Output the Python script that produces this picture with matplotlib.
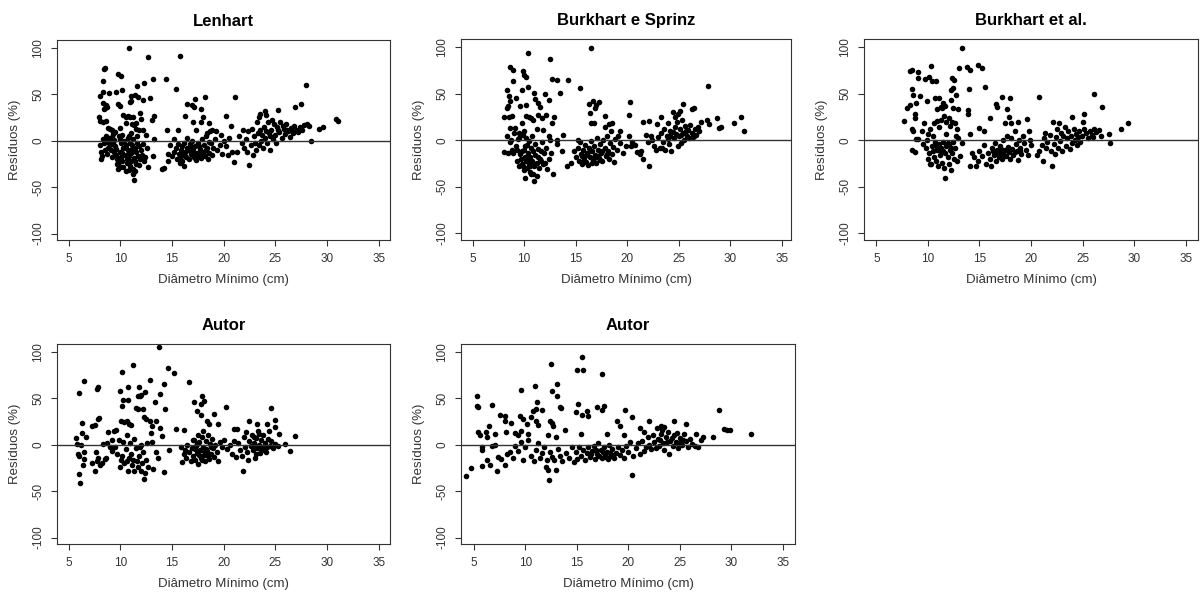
import matplotlib
matplotlib.use("Agg")
import matplotlib.pyplot as plt

plt.rcParams["font.family"] = ["Liberation Sans", "DejaVu Sans"]

XLABEL = "Diâmetro Mínimo (cm)"
YLABEL = "Resíduos (%)"
XTICKS = [5, 10, 15, 20, 25, 30, 35]
YTICKS = [-100, -50, 0, 50, 100]

# ---- Lenhart ----
lenhart = [
    (10.8, 100), (12.7, 90), (15.8, 91), (8.5, 78), (8.4, 77), (9.8, 72), (10.1, 70), (13.2, 67),
    (14.4, 67), (8.3, 64), (12.3, 62), (11.6, 59), (15.4, 56), (10.2, 55), (9.6, 53), (8.9, 51),
    (8.3, 53), (8.0, 48), (11.0, 48), (11.4, 49), (11.7, 47), (12.2, 44), (12.9, 46), (18.2, 47),
    (17.2, 45), (21.1, 47), (16.5, 40), (16.9, 38), (17.1, 36), (8.3, 41), (8.6, 38), (8.5, 35),
    (8.4, 34), (8.7, 36), (9.8, 40), (10.0, 37), (11.0, 43), (10.9, 42), (13.3, 27), (13.1, 22),
    (17.8, 34), (18.0, 26), (16.3, 27), (20.2, 27), (28.0, 60), (27.5, 40), (26.9, 36), (25.3, 33),
    (24.0, 32), (23.5, 29), (23.4, 26), (24.1, 28),
    (7.9, 26), (8.0, 21), (8.3, 20), (8.6, 21), (10.3, 28), (10.5, 25), (10.7, 27), (10.9, 25),
    (11.2, 26), (11.9, 30), (12.0, 23), (11.5, 19), (10.5, 19), (11.1, 18), (11.3, 17), (12.5, 6),
    (13.3, 2), (14.5, 11), (15.6, 11), (9.0, 13), (9.2, 11), (8.8, 14), (9.5, 9), (10.0, 14),
    (11.8, 12), (12.2, 11), (11.5, 13), (11.0, 8), (9.3, 7),
    (8.0, -5), (8.1, -12), (8.1, -20), (8.2, -16), (8.3, 2), (8.4, -3), (8.5, 0), (8.6, 5),
    (8.7, -1), (8.8, -8), (8.9, 3), (9.0, -5), (9.1, -10), (9.2, 4), (9.3, -2), (9.4, 1),
    (9.5, -6), (9.6, -15), (9.7, -20), (9.7, -25), (9.8, -24), (9.9, -27), (9.9, 5), (10.0, -12),
    (10.0, 2), (10.1, -18), (10.2, -22), (10.2, 6), (10.3, -8), (10.3, -28), (10.4, -15), (10.4, 0),
    (10.5, -5), (10.6, -20), (10.6, -24), (10.7, 3), (10.7, -10), (10.8, -17), (10.9, -27), (10.9, -2),
    (11.0, -13), (11.0, -22), (11.1, -5), (11.2, -30), (11.2, 2), (11.3, -19), (11.4, -8), (11.5, -25),
    (11.5, -12), (11.6, -3), (11.7, -16), (11.8, -6), (11.9, -20), (12.0, -10), (12.1, -15), (12.2, -4),
    (12.4, -18), (12.6, -8), (9.2, -18), (9.4, -12), (8.5, -10), (8.7, -14), (10.1, -3), (10.8, 5),
    (11.6, 5), (11.3, -42), (11.2, -36), (11.4, -33), (10.5, -33), (10.8, -32), (9.8, -30), (10.0, -28),
    (12.7, -28), (14.0, -30), (14.2, -29), (14.6, -22), (16.2, -27), (15.8, -24), (21.0, -23),
    (13.2, -16), (14.6, -14), (12.3, -22), (11.8, -26),
    (9.0, -1), (9.6, -9), (10.2, -13), (10.5, -8), (11.1, -9), (11.4, -22), (10.7, -14), (9.9, -20),
    (15.0, -17), (15.2, -12), (15.4, -8), (15.5, -20), (15.6, -4), (15.7, -14), (15.8, -18), (15.9, -10),
    (16.0, -22), (16.0, -6), (16.1, -15), (16.2, -2), (16.3, -12), (16.4, -18), (16.5, -8), (16.6, -20),
    (16.7, -4), (16.8, -14), (16.9, 0), (17.0, -10), (17.1, -18), (17.2, -6), (17.3, -21), (17.4, -13),
    (17.5, -3), (17.6, -16), (17.7, -9), (17.8, -19), (17.9, 2), (18.0, -12), (18.1, -5), (18.2, -17),
    (18.3, 5), (18.4, -8), (18.5, -20), (18.6, -13), (18.7, 10), (18.8, -3), (18.9, -15), (19.0, -8),
    (19.2, 2), (19.4, -10), (19.6, -5), (19.8, -14), (20.0, 0), (20.2, -6), (20.5, 3), (20.8, -12),
    (21.3, -12), (20.4, -15), (18.6, 19), (18.9, 12), (19.3, 10), (17.3, 12), (17.0, 20),
    (16.5, 3), (15.2, 2), (14.8, -5), (17.8, 20), (18.4, 8), (19.7, 6), (20.7, 16), (21.5, 5),
    (16.3, -16), (16.7, -11), (17.0, -15), (17.4, -17), (17.7, -13), (18.1, -15), (18.3, -10),
    (16.9, -7), (17.6, -6), (18.6, -1), (15.9, -13), (17.2, -19),
    (21.8, -2), (22.0, -8), (22.2, 2), (22.3, -12), (22.4, 10), (22.6, -5), (22.8, -15), (22.9, 5),
    (23.0, -2), (23.1, -10), (23.3, 8), (23.4, -5), (23.5, 12), (23.6, 0), (23.8, -8), (23.9, 15),
    (24.0, 3), (24.2, -3), (24.3, 20), (24.4, 8), (24.5, -10), (24.6, 12), (24.8, 2), (24.9, 18),
    (25.0, 6), (25.1, -2), (25.2, 15), (25.4, 9), (25.5, 20), (25.6, 3), (25.8, 13), (25.9, 7),
    (26.0, 18), (26.2, 10), (26.4, 4), (26.5, 14), (26.7, 8), (26.8, 16), (27.0, 12), (27.2, 9),
    (27.4, 15), (27.6, 11), (27.8, 17), (28.1, 18), (28.3, 16), (28.5, 0), (29.2, 13), (29.6, 15),
    (30.9, 23), (31.1, 21), (22.7, 13), (23.2, 20), (24.7, 22), (21.9, 12), (22.5, -26),
    (24.1, 10), (24.5, 5), (25.3, 11), (25.7, 16), (26.1, 12), (26.6, 10), (23.7, 6),
]

# ---- Burkhart e Sprinz ----
burkhart_sprinz = [
    (16.5, 99), (10.4, 94), (12.5, 87), (8.6, 79), (8.9, 75), (9.9, 74), (10.0, 70), (10.2, 68),
    (12.7, 66), (13.2, 65), (14.3, 65), (8.9, 63), (15.4, 56), (10.4, 57), (8.3, 54), (9.8, 54),
    (11.0, 51), (13.5, 51), (12.0, 49), (12.4, 43), (9.2, 45), (9.6, 37), (8.5, 47), (8.6, 42),
    (8.3, 35), (8.4, 37), (10.2, 38), (11.1, 44), (11.3, 40), (11.5, 36), (16.7, 42), (17.3, 41),
    (17.0, 38), (16.9, 35), (16.3, 39), (16.4, 29), (16.8, 18), (16.5, 18), (17.8, 26), (20.3, 41),
    (20.2, 27), (27.8, 58), (25.4, 39), (26.5, 34), (26.3, 33), (25.1, 31), (24.4, 30), (24.9, 28),
    (23.3, 25), (28.7, 24), (31.0, 25), (30.4, 18), (31.3, 10), (28.9, 13), (29.1, 14), (27.9, 17),
    (27.7, 22), (27.2, 19),
    (8.0, 25), (8.5, 25), (8.8, 26), (10.2, 26), (10.5, 25), (10.7, 24), (10.9, 22), (11.3, 27),
    (11.7, 24), (12.1, 27), (12.9, 25), (12.7, 18), (13.8, 6), (12.4, 5), (9.8, 18), (9.1, 13),
    (8.6, 13), (9.5, 8), (10.0, 10), (11.2, 12), (11.8, 11), (12.5, 0), (13.2, 0),
    (8.0, -13), (8.3, 4), (8.4, -14), (8.6, -2), (8.7, 0), (8.9, -14), (9.0, 8), (9.2, -6),
    (9.3, -10), (9.5, 2), (9.6, -15), (9.7, -20), (9.8, -25), (9.9, -28), (9.9, 6), (10.0, -32),
    (10.0, -10), (10.1, -18), (10.2, -22), (10.2, 2), (10.3, -5), (10.3, -30), (10.4, -14), (10.5, -26),
    (10.5, -1), (10.6, -34), (10.6, -18), (10.7, -8), (10.8, -22), (10.8, 4), (10.9, -36), (10.9, -12),
    (11.0, -44), (11.0, -28), (11.1, -4), (11.1, -16), (11.2, -38), (11.2, -24), (11.3, -9), (11.4, -30),
    (11.5, -20), (11.6, -12), (11.7, -2), (11.8, -26), (11.9, -14), (12.1, -8), (12.2, -31), (12.4, -20),
    (12.6, -14), (12.8, -36), (13.2, -4), (13.7, -12), (14.2, -28), (9.3, -22), (9.5, -28), (10.1, -40),
    (10.7, -36), (9.4, 1), (8.8, -10), (12.0, -24),
    (9.8, -12), (10.4, -20), (10.9, -24), (11.3, -18), (10.1, -6), (11.6, -22), (10.6, -28),
    (14.5, -24), (14.8, -12), (15.0, -18), (15.2, -8), (15.3, -22), (15.4, -2), (15.5, -15), (15.6, -25),
    (15.7, -10), (15.8, -19), (15.9, -5), (16.0, -23), (16.1, -14), (16.2, -27), (16.3, -8), (16.4, -18),
    (16.5, -1), (16.6, -12), (16.7, -21), (16.8, -6), (16.9, -16), (17.0, -24), (17.1, 2), (17.2, -10),
    (17.3, -19), (17.4, -4), (17.5, -14), (17.6, -22), (17.7, 0), (17.8, -8), (17.9, -17), (18.0, 4),
    (18.1, -12), (18.2, -20), (18.3, -3), (18.4, 10), (18.5, -15), (18.6, -7), (18.7, -23), (18.8, 1),
    (19.0, -10), (19.1, 5), (19.3, -3), (19.6, -14), (19.9, -6), (18.2, 17), (18.5, 18), (17.8, 14),
    (19.3, 10), (20.2, 4), (20.4, -6), (20.5, -2), (20.8, -5), (21.0, -13), (21.3, -12), (21.5, -20),
    (21.2, -15), (21.5, 20), (22.1, 21), (22.1, -28), (15.2, 0),
    (15.6, -17), (16.0, -16), (16.4, -12), (16.8, -19), (17.2, -17), (17.6, -12), (18.0, -15),
    (17.4, -21), (15.8, -21), (16.6, -24),
    (21.8, 6), (22.0, -2), (22.3, 5), (22.4, 0), (22.6, -6), (22.8, -10), (22.9, 17), (23.0, 3),
    (23.2, -8), (23.3, 8), (23.5, -2), (23.6, 12), (23.7, -10), (23.9, 5), (24.0, 18), (24.1, -4),
    (24.2, 10), (24.3, -12), (24.5, 2), (24.6, 14), (24.7, 7), (24.8, 20), (24.9, -6), (25.0, 4),
    (25.1, 12), (25.2, -3), (25.3, 22), (25.4, 8), (25.5, 0), (25.6, 15), (25.8, 5), (25.9, 11),
    (26.0, 2), (26.1, 16), (26.3, 8), (26.4, 3), (26.6, 12), (26.7, 6), (26.9, 14), (27.0, 10),
    (26.5, 4), (23.4, -8), (24.6, 25),
    (24.2, 4), (24.4, 9), (25.2, 6), (25.7, 10), (24.0, 1),
]

# ---- Burkhart et al. ----
burkhart_etal = [
    (13.3, 99), (14.9, 81), (15.2, 77), (13.8, 78), (14.1, 75), (13.0, 77), (10.3, 80), (8.5, 75),
    (8.3, 74), (9.0, 73), (10.1, 68), (9.7, 66), (9.0, 67), (12.3, 67), (12.5, 65), (10.4, 63),
    (10.8, 63), (8.5, 55), (12.2, 54), (12.4, 56), (14.0, 55), (15.5, 57), (26.1, 49), (20.8, 46),
    (17.2, 46), (18.0, 45), (9.2, 47), (8.6, 48), (8.8, 40), (9.9, 42), (10.7, 45), (11.1, 45),
    (11.5, 40), (12.7, 48), (12.2, 43), (8.0, 34), (8.3, 38), (8.7, 28), (8.7, 24), (7.7, 21),
    (11.7, 37), (11.4, 34), (10.9, 33), (11.3, 36), (12.4, 34), (12.9, 33), (13.9, 32), (13.9, 28),
    (16.6, 39), (16.7, 36), (17.7, 33), (16.0, 24), (17.9, 25), (19.6, 23), (26.9, 36), (25.1, 28),
    (24.0, 25), (25.0, 20), (29.4, 18), (28.7, 12), (27.6, 7), (27.7, -3),
    (8.5, 12), (8.6, 10), (8.8, 1), (9.0, 1), (9.4, 10), (9.6, 18), (10.0, 7), (10.2, 12),
    (10.6, 18), (10.9, 21), (11.1, 14), (11.3, 22), (11.6, 26), (11.8, 19), (12.0, 24), (12.1, 15),
    (12.3, 20), (12.6, 18), (12.8, 12), (14.1, 7), (15.0, 13), (15.4, 10), (12.9, 2), (11.8, 7),
    (12.7, 5), (10.5, 4),
    (8.5, -10), (8.7, -13), (9.5, -4), (9.8, -8), (10.0, -20), (10.1, -14), (10.3, -25), (10.4, -6),
    (10.6, -18), (10.7, -2), (10.8, -22), (10.9, -10), (11.0, -28), (11.1, -4), (11.2, -16), (11.3, -8),
    (11.4, -24), (11.5, -12), (11.6, -30), (11.7, -40), (11.8, -6), (11.9, -18), (12.0, -26), (12.1, -10),
    (12.2, -32), (12.3, -14), (12.4, -2), (12.5, -20), (12.6, -8), (12.8, -22), (13.1, -17), (13.3, -3),
    (10.2, -26), (11.0, -8), (11.5, -2), (12.0, -5), (9.9, 0), (10.5, -12),
    (11.2, -10), (11.7, -14), (12.2, -8), (10.8, -6), (11.9, -3),
    (14.1, -28), (14.3, -14), (14.5, -18), (14.7, -28), (14.9, -22), (15.0, -12), (15.2, -17), (15.4, -5),
    (15.6, -25), (15.8, -14), (16.0, -20), (16.1, -28), (16.2, -8), (16.4, -16), (16.5, -3), (16.6, -22),
    (16.7, -11), (16.9, -18), (17.0, -6), (17.1, -14), (17.2, -20), (17.3, 0), (17.5, -10), (17.6, -17),
    (17.7, 5), (17.8, -7), (17.9, -13), (18.0, -20), (18.1, 2), (18.2, -9), (18.3, -16), (18.4, 10),
    (18.5, -4), (18.6, -12), (18.7, -21), (18.8, 0), (18.9, -8), (19.0, -15), (19.2, 5), (19.3, -3),
    (19.5, -10), (19.7, -16), (19.9, 0), (20.0, -5), (17.5, 18), (18.1, 18), (18.7, 20), (19.8, 10),
    (20.6, -16), (20.8, -12), (21.1, -5),
    (16.3, -12), (16.8, -14), (17.4, -16), (17.8, -11), (18.4, -13), (18.9, -12), (17.1, -9),
    (21.2, -22), (21.3, 2), (21.4, 8), (21.5, -8), (21.6, -2), (21.8, 6), (21.9, -12), (22.0, -28),
    (22.1, 20), (22.2, -4), (22.3, -15), (22.4, 3), (22.5, 12), (22.6, -8), (22.7, 18), (22.8, -1),
    (22.9, 8), (23.0, -12), (23.1, 4), (23.3, 14), (23.4, -6), (23.5, 2), (23.6, 10), (23.8, -9),
    (23.9, 5), (24.0, -3), (24.2, 12), (24.3, 0), (24.4, 7), (24.5, -5), (24.6, 3), (24.7, 10),
    (24.8, -2), (24.9, 5), (25.1, 12), (25.3, 8), (25.5, 2), (25.7, 10), (25.9, 6), (26.1, 12),
    (26.3, 9), (26.6, 11), (26.8, 4), (26.0, 3),
]

# ---- Autor (1) ----
autor_1 = [
    (13.7, 105), (11.2, 86), (14.6, 83), (10.2, 78), (15.2, 77), (16.6, 68), (12.9, 70), (6.5, 69),
    (14.2, 65), (10.7, 62), (11.8, 62), (7.7, 60), (7.8, 62), (6.0, 56), (10.0, 58), (12.4, 57),
    (11.7, 53), (12.0, 54), (11.9, 52), (13.8, 55), (13.4, 46), (10.3, 48), (10.7, 48), (10.2, 42),
    (11.5, 40), (11.7, 38), (12.2, 38), (14.3, 38), (17.9, 52), (18.1, 47), (17.8, 44), (17.1, 46),
    (17.4, 36), (17.8, 32), (20.2, 41), (24.6, 40), (19.1, 33), (7.8, 28), (7.9, 29), (9.4, 15),
    (9.6, 16), (10.1, 25), (10.4, 24), (10.6, 26), (10.8, 22), (11.0, 21), (12.3, 30), (12.5, 28),
    (12.9, 26), (13.1, 20), (13.5, 25), (13.0, 13), (13.8, 18), (14.0, 9), (15.4, 17), (16.2, 16),
    (18.4, 25), (18.6, 22), (19.5, 22), (21.0, 17), (21.3, 17), (22.5, 25), (23.2, 22), (24.2, 22),
    (25.0, 27), (25.0, 19), (25.4, 12), (6.3, 23), (6.3, 13), (7.5, 21), (7.3, 20), (6.7, 8),
    (5.7, 7), (5.8, 1), (5.9, -10), (6.0, -12), (6.0, -32), (6.1, -41), (6.2, 0), (6.4, -22),
    (6.5, -15), (6.5, -8), (7.3, -20), (7.5, -28), (7.6, -8), (7.7, -18), (7.8, -14), (8.0, -22),
    (8.2, -20), (8.5, -15), (8.6, -14), (8.7, 2), (8.8, 14), (9.0, -3), (9.2, -7), (9.5, -2),
    (9.7, -10), (9.9, 5), (10.0, -24), (10.1, -16), (10.2, -12), (10.3, 3), (10.4, -20), (10.5, -5),
    (10.6, -18), (10.7, -28), (10.8, -14), (10.9, 2), (11.0, -10), (11.1, -22), (11.2, -16), (11.3, -28),
    (11.5, -4), (11.6, -18), (11.7, -24), (11.8, -12), (11.9, -2), (12.0, -28), (12.1, -20), (12.2, -8),
    (12.3, -37), (12.4, -30), (12.5, -16), (12.7, -24), (13.2, -26), (13.5, -8), (13.6, -14), (14.2, -29),
    (14.7, -6), (10.6, 10), (11.3, 6), (12.0, 0), (12.6, 2), (13.1, 3), (8.3, 1), (9.2, 5),
    (15.9, -3), (16.0, -19), (16.2, -10), (16.3, -6), (16.4, -14), (16.5, 0), (16.6, -8), (16.8, -18),
    (16.9, -4), (17.0, -12), (17.1, 5), (17.2, -16), (17.3, -1), (17.4, -9), (17.5, -21), (17.6, 3),
    (17.7, -6), (17.8, -14), (17.9, 8), (18.0, -2), (18.1, -11), (18.2, -18), (18.3, 4), (18.4, -7),
    (18.5, 10), (18.6, -15), (18.7, 1), (18.8, -10), (18.9, 6), (19.0, -4), (19.1, -13), (19.2, 0),
    (19.4, -8), (19.5, -18), (19.6, 3), (19.8, -2), (20.0, 5), (17.5, 10), (18.0, 15), (18.3, -5),
    (17.0, 5),
    (17.2, -5), (17.6, -11), (18.1, -7), (18.5, -12), (18.8, -3), (17.9, -17), (17.4, 1),
    (20.3, -5), (20.6, 0), (20.8, -10), (21.0, 4), (21.2, -13), (21.4, 2), (21.6, -6), (21.8, -12),
    (21.9, -28), (22.0, 8), (22.1, -3), (22.2, 14), (22.3, -8), (22.4, -17), (22.5, 4), (22.6, -1),
    (22.7, 10), (22.8, -6), (22.9, 2), (23.0, -14), (23.1, 7), (23.2, -4), (23.3, 15), (23.4, 0),
    (23.5, -9), (23.6, 5), (23.7, -2), (23.8, 10), (23.9, -6), (24.0, 2), (24.2, -3), (24.3, 6),
    (24.5, -1), (24.6, 4), (24.8, -4), (25.0, 1), (25.3, -1), (25.9, 1), (26.4, -7), (26.9, 9),
    (24.4, 15), (23.1, -10),
    (22.9, 8), (23.4, 11), (23.0, -3), (23.6, -5), (24.1, -8),
]

# ---- Autor (2) ----
autor_2 = [
    (15.5, 95), (12.5, 87), (15.0, 81), (15.6, 81), (17.4, 76), (13.1, 65), (10.9, 63), (9.6, 59),
    (12.6, 58), (13.1, 53), (5.3, 52), (5.3, 42), (5.4, 41), (6.8, 43), (11.1, 46), (15.1, 44),
    (13.5, 40), (13.4, 41), (17.0, 41), (17.6, 42), (17.4, 37), (16.0, 36), (16.1, 31), (15.5, 32),
    (14.9, 35), (19.7, 37), (20.4, 30), (28.8, 37), (29.3, 17), (29.6, 16), (29.9, 16), (31.9, 12),
    (28.2, 8), (27.3, 8), (25.6, 22), (24.4, 26), (22.0, 25), (23.2, 20), (23.5, 19), (18.9, 26),
    (19.2, 20), (11.0, 38), (11.6, 37), (10.7, 36), (10.5, 30), (9.5, 31), (9.8, 28), (10.2, 22),
    (11.0, 26), (11.2, 21), (12.6, 23), (12.7, 20), (12.4, 25), (13.8, 16), (7.5, 32), (8.0, 31),
    (8.0, 26), (8.6, 23), (6.5, 20), (5.4, 14), (5.6, 10), (6.2, 14), (6.3, 8), (7.0, 12),
    (8.1, 14), (9.0, 13), (9.3, 10), (9.6, 15), (10.3, 12), (12.2, 10), (13.0, 8), (15.4, 11),
    (17.9, 11), (19.6, 10), (21.1, 18), (21.5, 14),
    (4.2, -34), (4.7, -25), (5.8, -23), (5.8, -6), (5.8, -3), (6.3, -17), (6.6, -22), (6.8, -1),
    (7.0, 0), (7.2, -28), (7.3, -13), (7.6, -15), (8.0, -22), (8.2, -10), (8.5, -8), (8.8, -14),
    (9.0, -1), (9.3, -7), (9.6, 3), (9.8, -16), (10.0, -2), (10.3, 5), (10.5, -12), (10.8, -18),
    (11.0, -6), (11.2, 2), (11.4, -14), (11.6, -9), (11.8, -3), (12.0, -24), (12.1, -16), (12.2, -27),
    (12.3, -38), (12.4, -8), (12.6, -13), (12.8, -17), (13.0, -27), (13.2, -5), (13.4, -12), (13.6, -18),
    (13.9, -9), (14.2, -14), (14.5, -3), (14.7, -19), (14.9, -8), (15.0, -15), (15.2, -2), (15.4, -12),
    (15.6, -6), (15.8, -17), (16.0, -9), (16.1, -3), (16.3, -13), (16.5, -7), (16.7, -1), (16.8, -15),
    (17.0, -10), (17.1, 2), (17.3, -6), (17.4, -14), (17.6, -2), (17.7, -11), (17.9, -8), (18.0, -15),
    (18.1, 0), (18.3, -12), (18.4, -5), (18.6, -14), (18.8, -9), (19.0, -2), (19.2, -11), (19.4, -6),
    (19.6, -14), (19.8, -1), (20.0, -8), (20.2, 3), (20.4, -33), (20.5, -12), (20.7, -4), (20.9, 2),
    (21.1, -10), (21.3, 4), (21.5, -7), (21.7, -2),
    (17.2, -12), (17.5, -8), (17.8, -13), (18.2, -9), (18.5, -11), (16.9, -6), (16.4, -10),
    (21.9, 8), (22.0, 0), (22.2, -5), (22.4, 10), (22.5, 3), (22.7, -4), (22.9, 6), (23.0, -1),
    (23.2, 12), (23.4, 2), (23.5, -6), (23.7, 8), (23.9, 14), (24.0, -10), (24.1, 4), (24.3, -1),
    (24.4, 10), (24.6, 3), (24.8, -4), (25.0, 7), (25.2, 0), (25.4, 12), (25.6, 4), (25.8, -2),
    (26.0, 6), (26.2, 1), (26.5, -1), (26.6, 12), (26.8, -3), (27.1, 5), (23.3, 16), (24.7, 13),
    (22.8, 18),
    (23.8, 3), (24.2, 7), (24.9, 2), (25.3, 5), (23.1, 5),
]

W, H = 1201, 597
# (title, points, axes box in pixels [x0, y0_top, x1, y1_bottom], xlim)
panels = [
    ("Lenhart", lenhart, (57, 40, 390, 240), (3.87, 36.1)),
    ("Burkhart e Sprinz", burkhart_sprinz, (461, 39, 791, 240), (3.87, 35.9)),
    ("Burkhart et al.", burkhart_etal, (864, 39, 1198, 240), (3.8, 36.2)),
    ("Autor", autor_1, (57, 344, 390, 544), (3.87, 36.1)),
    ("Autor", autor_2, (461, 344, 795, 544), (3.74, 36.2)),
]

fig = plt.figure(figsize=(W / 100, H / 100), dpi=100)
for title, pts, (x0, y0, x1, y1), xl in panels:
    ax = fig.add_axes([x0 / W, 1 - y1 / H, (x1 - x0) / W, (y1 - y0) / H])
    xs = [p[0] for p in pts]
    ys = [p[1] for p in pts]
    ax.scatter(xs, ys, s=16, color="black", linewidths=0)
    ax.axhline(0, color="#333333", lw=1.0)
    ax.set_xlim(*xl)
    ax.set_ylim(-107, 108.5)
    ax.set_xticks(XTICKS)
    ax.set_yticks(YTICKS)
    ax.set_yticklabels([str(v) for v in YTICKS], rotation=90, va="center")
    ax.tick_params(labelsize=8.5, length=4, width=0.8, pad=5, color="#333333",
                   labelcolor="#333333")
    for sp in ax.spines.values():
        sp.set_linewidth(0.8)
        sp.set_color("#333333")
    ax.set_title(title, fontsize=12, fontweight="bold", pad=10)
    ax.set_xlabel(XLABEL, fontsize=9.5, color="#333333", labelpad=7)
    ax.set_ylabel(YLABEL, fontsize=9.5, color="#333333", labelpad=8)

fig.savefig("out.png", dpi=100)
